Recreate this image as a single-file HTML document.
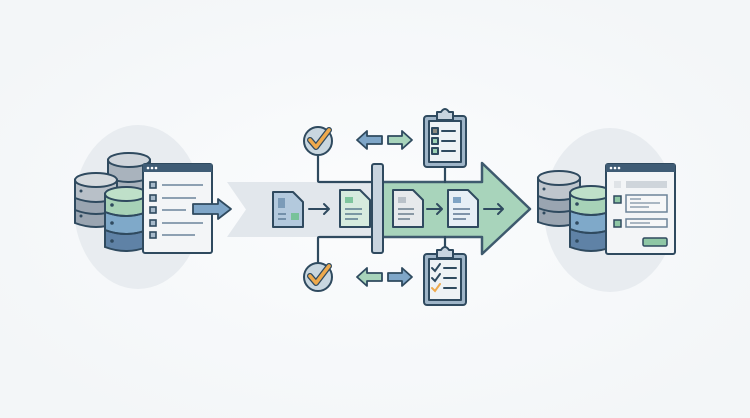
<!DOCTYPE html>
<html><head><meta charset="utf-8"><style>html,body{margin:0;padding:0;background:#f7f9fa;}svg{display:block}</style></head>
<body>
<svg width="750" height="418" viewBox="0 0 750 418" xmlns="http://www.w3.org/2000/svg">
<defs>
<radialGradient id="bg" cx="50%" cy="50%" r="60%"><stop offset="0" stop-color="#fbfcfd"/><stop offset="1" stop-color="#f3f6f8"/></radialGradient>
</defs>
<rect width="750" height="418" fill="url(#bg)"/>
<ellipse cx="138" cy="207" rx="64" ry="82" fill="#e8ecf0"/>
<ellipse cx="610" cy="210" rx="66" ry="82" fill="#e8ecf0"/>

<!-- gray band with chevron -->
<polygon points="227,182 378,182 378,237 227,237 246,209.5" fill="#e2e7ec"/>
<!-- green arrow -->
<polygon points="378,182 482,182 482,163 530,209 482,254 482,237 378,237" fill="#a8d4bb" stroke="#3e5a6e" stroke-width="2.5" stroke-linejoin="round"/>
<rect x="384" y="184" width="96" height="51" fill="#a8d4bb"/>

<g stroke="#2f4a5f" stroke-width="2.2" fill="none" stroke-linejoin="round" stroke-linecap="round">
<!-- connector lines -->
<path d="M318,155 V181 Q318,182 320,182 H372"/>
<path d="M318,263 V238 Q318,237 320,237 H372"/>
<path d="M445,167 V182"/>
<path d="M445,250 V237"/>
</g>

<!-- vertical bar -->
<rect x="372" y="164" width="11" height="89" rx="2" fill="#c8d4df" stroke="#2f4a5f" stroke-width="2"/>

<!-- docs -->
<g stroke="#2f4a5f" stroke-width="2" stroke-linejoin="round">
<path d="M273,192 H293 L303,202 V227 H273 Z" fill="#b3c9dd"/>
<path d="M340,190 H360 L370,200 V227 H340 Z" fill="#d6ebde"/>
<path d="M393,190 H413 L423,200 V227 H393 Z" fill="#e6e9ec"/>
<path d="M448,190 H468 L478,200 V227 H448 Z" fill="#e7eff6"/>
</g>
<rect x="278" y="198" width="7" height="10" fill="#7b9bb8"/>
<rect x="291" y="213" width="8" height="7" fill="#78c29a"/>
<path d="M278,214 H286 M278,219 H286" stroke="#5e7d98" stroke-width="1.5"/>
<rect x="345" y="197" width="8" height="6" fill="#7ec59d"/>
<path d="M345,209 H362 M345,214 H362 M345,219 H358" stroke="#5c7d8f" stroke-width="1.5"/>
<rect x="398" y="197" width="8" height="6" fill="#b9c1c9"/>
<path d="M398,209 H414 M398,214 H414 M398,219 H410" stroke="#6a7d8d" stroke-width="1.5"/>
<rect x="453" y="197" width="8" height="6" fill="#7ea3c4"/>
<path d="M453,209 H470 M453,214 H470 M453,219 H466" stroke="#5c7590" stroke-width="1.5"/>

<g stroke="#2f4a5f" stroke-width="2" fill="none" stroke-linecap="round" stroke-linejoin="round">
<path d="M309,209 H329 M324,204 L329,209 L324,214"/>
<path d="M427,209 H442 M437,204 L442,209 L437,214"/>
<path d="M484,209 H503 M498,204 L503,209 L498,214"/>
</g>

<!-- check circles -->
<g>
<circle cx="318" cy="141" r="14" fill="#c9d7e0" stroke="#2f4a5f" stroke-width="2"/>
<path d="M310,140 L316,147 L329,130" stroke="#2f4a5f" stroke-width="6" fill="none" stroke-linecap="round" stroke-linejoin="round"/>
<path d="M310,140 L316,147 L329,130" stroke="#eea94c" stroke-width="3.5" fill="none" stroke-linecap="round" stroke-linejoin="round"/>
<circle cx="318" cy="277" r="14" fill="#c9d7e0" stroke="#2f4a5f" stroke-width="2"/>
<path d="M310,276 L316,283 L329,266" stroke="#2f4a5f" stroke-width="6" fill="none" stroke-linecap="round" stroke-linejoin="round"/>
<path d="M310,276 L316,283 L329,266" stroke="#eea94c" stroke-width="3.5" fill="none" stroke-linecap="round" stroke-linejoin="round"/>
</g>

<!-- double arrows -->
<g stroke="#2f4a5f" stroke-width="1.8" stroke-linejoin="round">
<polygon points="357,140 367,131 367,136 382,136 382,144 367,144 367,149" fill="#7fa6c8"/>
<polygon points="412,140 402,131 402,136 388,136 388,144 402,144 402,149" fill="#a8d4bb"/>
<polygon points="357,277 367,268 367,273 382,273 382,281 367,281 367,286" fill="#a8d4bb"/>
<polygon points="412,277 402,268 402,273 388,273 388,281 402,281 402,286" fill="#7fa6c8"/>
</g>

<!-- clipboards -->
<g stroke="#2f4a5f" stroke-width="2" stroke-linejoin="round">
<rect x="424" y="116" width="42" height="51" rx="3" fill="#9fb5c8"/>
<rect x="429" y="121" width="32" height="41" fill="#eef2f5"/>
<path d="M437,116 V112 H441 Q445,106 449,112 H453 V120 H437 Z" fill="#c8d4df"/>
<rect x="432" y="128" width="6" height="6" fill="#8c8a80"/>
<rect x="432" y="138" width="6" height="6" fill="#9bd0b3"/>
<rect x="432" y="148" width="6" height="6" fill="#9bd0b3"/>
<rect x="424" y="254" width="42" height="51" rx="3" fill="#9fb5c8"/>
<rect x="429" y="259" width="32" height="41" fill="#eef2f5"/>
<path d="M437,254 V250 H441 Q445,244 449,250 H453 V258 H437 Z" fill="#c8d4df"/>
</g>
<g stroke="#2f4a5f" stroke-width="2" fill="none" stroke-linecap="round">
<path d="M442,131 H455 M442,141 H455 M442,151 H455"/>
<path d="M432,268 L435,271 L440,264 M444,268 H456 M432,278 L435,281 L440,274 M444,278 H456 M444,288 H456"/>
</g>
<path d="M432,288 L435,291 L440,284" stroke="#eea94c" stroke-width="2" fill="none" stroke-linecap="round"/>

<!-- LEFT DATABASES -->
<g stroke="#2f4a5f" stroke-width="2">
<!-- back top gray -->
<path d="M108,160 V198 Q129,206 150,198 V160 Z" fill="#a9b3bd"/>
<ellipse cx="129" cy="160" rx="21" ry="7" fill="#cfd5db"/>
<path d="M108,178 Q129,186 150,178" fill="none"/>
<!-- back left gray -->
<path d="M75,180 V223 Q96,231 117,223 V180 Z" fill="#9aa5b1"/>
<path d="M75,180 V198 Q96,206 117,198 V180 Z" fill="#b8c0c8"/>
<ellipse cx="96" cy="180" rx="21" ry="7" fill="#d5dade"/>
<path d="M75,210 Q96,218 117,210" fill="none"/>
<!-- front -->
<path d="M105,194 V247 Q126,255 147,247 V194 Z" fill="#5f82a6"/>
<path d="M105,212 V230 Q126,238 147,230 V212 Z" fill="#7fa9c9"/>
<path d="M105,194 V212 Q126,220 147,212 V194 Z" fill="#a7d2b7"/>
<ellipse cx="126" cy="194" rx="21" ry="7" fill="#bfe0c9"/>
<path d="M105,212 Q126,220 147,212 M105,230 Q126,238 147,230" fill="none"/>
</g>
<g fill="#2f4a5f"><circle cx="112" cy="205" r="1.8"/><circle cx="112" cy="223" r="1.8"/><circle cx="112" cy="241" r="1.8"/><circle cx="81" cy="191" r="1.5"/><circle cx="81" cy="216" r="1.5"/></g>
<!-- left window -->
<rect x="143" y="164" width="69" height="89" rx="2" fill="#f3f5f7" stroke="#2f4a5f" stroke-width="2"/>
<rect x="143" y="164" width="69" height="8" fill="#3f5c75"/>
<g fill="#fff"><circle cx="148" cy="168" r="1.3"/><circle cx="152" cy="168" r="1.3"/><circle cx="156" cy="168" r="1.3"/></g>
<g stroke="#2f4a5f" stroke-width="1.6" fill="#a6b9ca">
<rect x="150" y="182" width="6" height="6"/><rect x="150" y="195" width="6" height="6"/><rect x="150" y="207" width="6" height="6"/><rect x="150" y="220" width="6" height="6"/><rect x="150" y="232" width="6" height="6"/>
</g>
<g stroke="#8da0b2" stroke-width="2"><path d="M162,185 H203 M162,198 H196 M162,210 H186 M162,223 H203 M162,235 H195"/></g>
<polygon points="193,204 218,204 218,199 231,209 218,219 218,214 193,214" fill="#7fa6c8" stroke="#2f4a5f" stroke-width="1.8" stroke-linejoin="round"/>

<!-- RIGHT DATABASES -->
<g stroke="#2f4a5f" stroke-width="2">
<path d="M538,178 V222 Q559,230 580,222 V178 Z" fill="#9aa5b1"/>
<path d="M538,178 V196 Q559,204 580,196 V178 Z" fill="#bfc6cd"/>
<ellipse cx="559" cy="178" rx="21" ry="7" fill="#d5dade"/>
<path d="M538,208 Q559,216 580,208" fill="none"/>
<path d="M570,193 V247 Q591,255 612,247 V193 Z" fill="#5f82a6"/>
<path d="M570,211 V229 Q591,237 612,229 V211 Z" fill="#7fa9c9"/>
<path d="M570,193 V211 Q591,219 612,211 V193 Z" fill="#a7d2b7"/>
<ellipse cx="591" cy="193" rx="21" ry="7" fill="#bfe0c9"/>
<path d="M570,211 Q591,219 612,211 M570,229 Q591,237 612,229" fill="none"/>
</g>
<g fill="#2f4a5f"><circle cx="577" cy="204" r="1.8"/><circle cx="577" cy="223" r="1.8"/><circle cx="577" cy="241" r="1.8"/><circle cx="544" cy="189" r="1.5"/><circle cx="544" cy="213" r="1.5"/></g>
<rect x="606" y="164" width="69" height="90" rx="2" fill="#f3f5f7" stroke="#2f4a5f" stroke-width="2"/>
<rect x="606" y="164" width="69" height="8" fill="#3f5c75"/>
<g fill="#fff"><circle cx="611" cy="168" r="1.3"/><circle cx="615" cy="168" r="1.3"/><circle cx="619" cy="168" r="1.3"/></g>
<rect x="614" y="181" width="7" height="7" fill="#dfe3e7"/>
<rect x="626" y="181" width="41" height="7" fill="#cfd5db"/>
<rect x="614" y="196" width="7" height="7" fill="#8fc7a5" stroke="#2f4a5f" stroke-width="1.5"/>
<rect x="626" y="195" width="41" height="17" fill="#f6f7f8" stroke="#6d8499" stroke-width="1.5"/>
<path d="M630,199 H641 M630,203 H660 M630,207 H649" stroke="#7b8fa2" stroke-width="1.3"/>
<rect x="614" y="220" width="7" height="7" fill="#8fc7a5" stroke="#2f4a5f" stroke-width="1.5"/>
<rect x="626" y="219" width="41" height="8" fill="#f6f7f8" stroke="#6d8499" stroke-width="1.5"/>
<path d="M630,223 H650" stroke="#7b8fa2" stroke-width="1.3"/>
<rect x="643" y="238" width="24" height="8" rx="1.5" fill="#8fc7a5" stroke="#2f4a5f" stroke-width="1.5"/>
</svg>
</body></html>
